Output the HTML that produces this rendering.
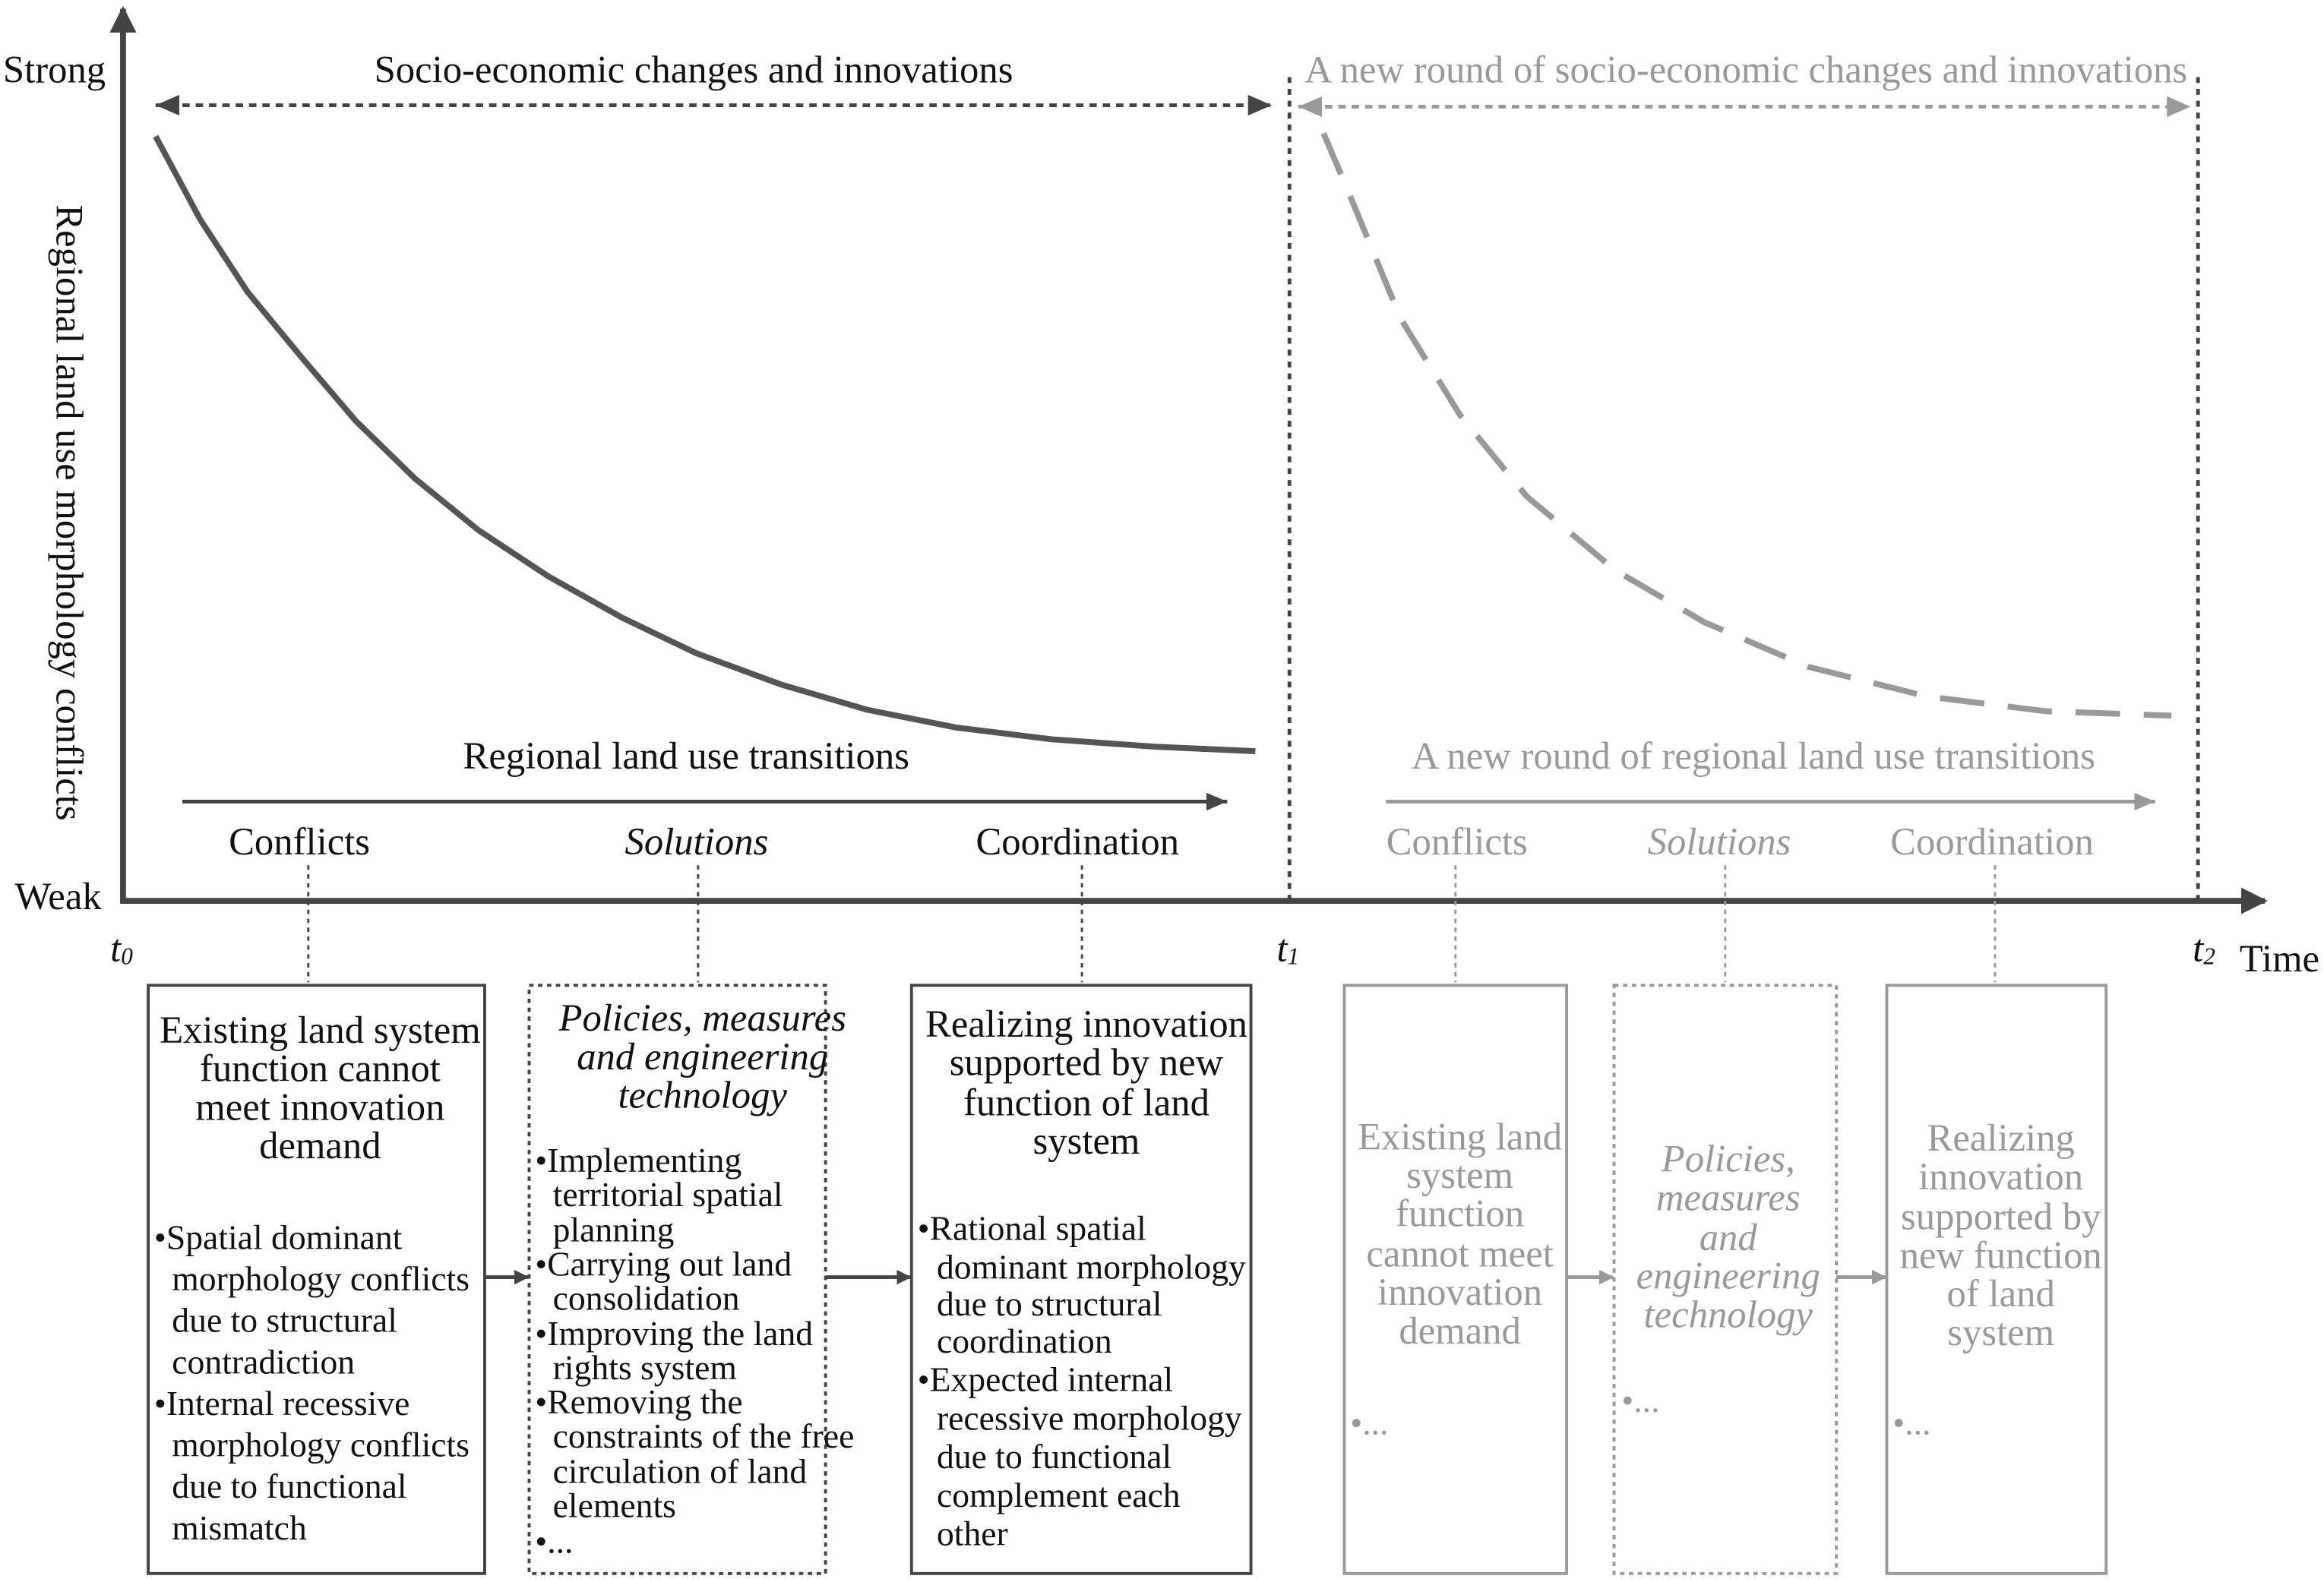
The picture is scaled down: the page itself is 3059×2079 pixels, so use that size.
<!DOCTYPE html>
<html><head><meta charset="utf-8"><style>
html,body{margin:0;padding:0;background:#fff}
svg{display:block}
text{font-family:"Liberation Serif",serif;dominant-baseline:central}
.k{fill:#111;font-size:23.4px}
.g{fill:#999;font-size:23.4px}
.t{font-size:26px}
</style></head><body>
<svg width="3059" height="2079" viewBox="0 0 1568 1065.7" preserveAspectRatio="none" xmlns="http://www.w3.org/2000/svg">
<defs>
<marker id="ak" markerWidth="10" markerHeight="10" refX="9" refY="5" orient="auto" markerUnits="userSpaceOnUse"><path d="M0,0 L10,5 L0,10 Z" fill="#444"/></marker>
<marker id="ag" markerWidth="10" markerHeight="10" refX="9" refY="5" orient="auto" markerUnits="userSpaceOnUse"><path d="M0,0 L10,5 L0,10 Z" fill="#999"/></marker>
<marker id="ab" markerWidth="18" markerHeight="18" refX="16" refY="9" orient="auto" markerUnits="userSpaceOnUse"><path d="M0,0 L18,9 L0,18 Z" fill="#444"/></marker>
<marker id="kd" markerWidth="18" markerHeight="18" refX="16" refY="9" orient="auto-start-reverse" markerUnits="userSpaceOnUse"><path d="M0,2 L16,9 L0,16 Z" fill="#444"/></marker>
<marker id="gd" markerWidth="18" markerHeight="18" refX="16" refY="9" orient="auto-start-reverse" markerUnits="userSpaceOnUse"><path d="M0,2 L16,9 L0,16 Z" fill="#999"/></marker>
<marker id="ks" markerWidth="16" markerHeight="16" refX="14" refY="8" orient="auto" markerUnits="userSpaceOnUse"><path d="M0,2 L14,8 L0,14 Z" fill="#444"/></marker>
<marker id="gs" markerWidth="16" markerHeight="16" refX="14" refY="8" orient="auto" markerUnits="userSpaceOnUse"><path d="M0,2 L14,8 L0,14 Z" fill="#999"/></marker>
</defs>
<line x1="83" y1="609" x2="83" y2="6" stroke="#444" stroke-width="4" marker-end="url(#ab)"/>
<line x1="81" y1="608" x2="1528" y2="608" stroke="#444" stroke-width="4" marker-end="url(#ab)"/>
<text class="k t" x="2" y="47">Strong</text>
<text class="k t" x="10" y="605">Weak</text>
<text class="k t" x="47" y="346" text-anchor="middle" transform="rotate(90 47 346)">Regional land use morphology conflicts</text>
<text class="k t" x="82" y="640" text-anchor="middle" font-style="italic">t<tspan font-size="16" dy="5">0</tspan></text>
<text class="k t" x="869" y="640" text-anchor="middle" font-style="italic">t<tspan font-size="16" dy="5">1</tspan></text>
<text class="k t" x="1487" y="640" text-anchor="middle" font-style="italic">t<tspan font-size="16" dy="5">2</tspan></text>
<text class="k t" x="1511" y="647">Time</text>
<text class="k t" x="468" y="47" text-anchor="middle">Socio-economic changes and innovations</text>
<line x1="105" y1="71" x2="858" y2="71" stroke="#444" stroke-width="2.5" stroke-dasharray="5 4" marker-start="url(#kd)" marker-end="url(#kd)"/>
<text class="g t" x="1178" y="47" text-anchor="middle">A new round of socio-economic changes and innovations</text>
<line x1="876" y1="72" x2="1478" y2="72" stroke="#999" stroke-width="2.5" stroke-dasharray="5 4" marker-start="url(#gd)" marker-end="url(#gd)"/>
<line x1="870" y1="52" x2="870" y2="608" stroke="#444" stroke-width="2.5" stroke-dasharray="4 4"/>
<line x1="1483" y1="52" x2="1483" y2="608" stroke="#444" stroke-width="2.5" stroke-dasharray="4 4"/>
<polyline fill="none" stroke="#555" stroke-width="4" points="105,92 135,148 167,197 205,243 240,284 280,323 323,358 370,389 420,417 470,441 527,462 585,479 645,491 710,499 780,504 847,507"/>
<polyline fill="none" stroke="#999" stroke-width="4" stroke-dasharray="30 16" points="893,90 910,130 945,215 985,280 1030,335 1090,385 1150,420 1220,450 1300,470 1380,480 1465,483"/>
<text class="k t" x="463" y="510" text-anchor="middle">Regional land use transitions</text>
<line x1="123" y1="541" x2="828" y2="541" stroke="#444" stroke-width="2.5" marker-end="url(#ks)"/>
<text class="g t" x="1183" y="510" text-anchor="middle">A new round of regional land use transitions</text>
<line x1="935" y1="541" x2="1454" y2="541" stroke="#999" stroke-width="2.5" marker-end="url(#gs)"/>
<text class="k t" x="202" y="568" text-anchor="middle">Conflicts</text>
<text class="k t" x="470" y="568" text-anchor="middle" font-style="italic">Solutions</text>
<text class="k t" x="727" y="568" text-anchor="middle">Coordination</text>
<text class="g t" x="983" y="568" text-anchor="middle">Conflicts</text>
<text class="g t" x="1160" y="568" text-anchor="middle" font-style="italic">Solutions</text>
<text class="g t" x="1344" y="568" text-anchor="middle">Coordination</text>
<g stroke-width="1.5" stroke-dasharray="3 3">
<line x1="208" y1="584" x2="208" y2="663" stroke="#444"/>
<line x1="471" y1="584" x2="471" y2="663" stroke="#444"/>
<line x1="730" y1="584" x2="730" y2="663" stroke="#444"/>
<line x1="982" y1="584" x2="982" y2="663" stroke="#999"/>
<line x1="1164" y1="584" x2="1164" y2="663" stroke="#999"/>
<line x1="1346" y1="584" x2="1346" y2="663" stroke="#999"/>
</g>
<rect x="100" y="665" width="227" height="397" fill="none" stroke="#444" stroke-width="2"/>
<rect x="357" y="665" width="200" height="397" fill="none" stroke="#444" stroke-width="2" stroke-dasharray="3 3"/>
<rect x="615" y="665" width="229" height="397" fill="none" stroke="#444" stroke-width="2"/>
<rect x="907" y="665" width="150" height="397" fill="none" stroke="#999" stroke-width="2"/>
<rect x="1089" y="665" width="150" height="397" fill="none" stroke="#999" stroke-width="2" stroke-dasharray="3 3"/>
<rect x="1273" y="665" width="148" height="397" fill="none" stroke="#999" stroke-width="2"/>
<g stroke-width="2.5">
<line x1="327" y1="862" x2="356" y2="862" stroke="#444" marker-end="url(#ak)"/>
<line x1="557" y1="862" x2="614" y2="862" stroke="#444" marker-end="url(#ak)"/>
<line x1="1057" y1="862" x2="1088" y2="862" stroke="#999" marker-end="url(#ag)"/>
<line x1="1239" y1="862" x2="1272" y2="862" stroke="#999" marker-end="url(#ag)"/>
</g>
<text class="k t" x="216" y="695" text-anchor="middle">Existing land system</text>
<text class="k t" x="216" y="721" text-anchor="middle">function cannot</text>
<text class="k t" x="216" y="747" text-anchor="middle">meet innovation</text>
<text class="k t" x="216" y="773" text-anchor="middle">demand</text>
<text class="k" x="104" y="835">•Spatial dominant</text>
<text class="k" x="116" y="863">morphology conflicts</text>
<text class="k" x="116" y="891">due to structural</text>
<text class="k" x="116" y="919">contradiction</text>
<text class="k" x="104" y="947">•Internal recessive</text>
<text class="k" x="116" y="975">morphology conflicts</text>
<text class="k" x="116" y="1003">due to functional</text>
<text class="k" x="116" y="1031">mismatch</text>
<text class="k t" x="474" y="687" text-anchor="middle" font-style="italic">Policies, measures</text>
<text class="k t" x="474" y="713" text-anchor="middle" font-style="italic">and engineering</text>
<text class="k t" x="474" y="739" text-anchor="middle" font-style="italic">technology</text>
<text class="k" x="361" y="783">•Implementing</text>
<text class="k" x="373" y="806">territorial spatial</text>
<text class="k" x="373" y="830">planning</text>
<text class="k" x="361" y="853">•Carrying out land</text>
<text class="k" x="373" y="876">consolidation</text>
<text class="k" x="361" y="900">•Improving the land</text>
<text class="k" x="373" y="923">rights system</text>
<text class="k" x="361" y="946">•Removing the</text>
<text class="k" x="373" y="969">constraints of the free</text>
<text class="k" x="373" y="993">circulation of land</text>
<text class="k" x="373" y="1016">elements</text>
<text class="k" x="361" y="1040">•...</text>
<text class="k t" x="733" y="691" text-anchor="middle">Realizing innovation</text>
<text class="k t" x="733" y="717" text-anchor="middle">supported by new</text>
<text class="k t" x="733" y="744" text-anchor="middle">function of land</text>
<text class="k t" x="733" y="770" text-anchor="middle">system</text>
<text class="k" x="619" y="829">•Rational spatial</text>
<text class="k" x="632" y="855">dominant morphology</text>
<text class="k" x="632" y="880">due to structural</text>
<text class="k" x="632" y="905">coordination</text>
<text class="k" x="619" y="931">•Expected internal</text>
<text class="k" x="632" y="957">recessive morphology</text>
<text class="k" x="632" y="983">due to functional</text>
<text class="k" x="632" y="1009">complement each</text>
<text class="k" x="632" y="1035">other</text>
<g text-anchor="middle">
<text class="g t" x="985" y="767">Existing land</text>
<text class="g t" x="985" y="793">system</text>
<text class="g t" x="985" y="819">function</text>
<text class="g t" x="985" y="846">cannot meet</text>
<text class="g t" x="985" y="872">innovation</text>
<text class="g t" x="985" y="898">demand</text>
<text class="g t" x="1166" y="782" font-style="italic">Policies,</text>
<text class="g t" x="1166" y="808" font-style="italic">measures</text>
<text class="g t" x="1166" y="835" font-style="italic">and</text>
<text class="g t" x="1166" y="861" font-style="italic">engineering</text>
<text class="g t" x="1166" y="887" font-style="italic">technology</text>
<text class="g t" x="1350" y="768">Realizing</text>
<text class="g t" x="1350" y="794">innovation</text>
<text class="g t" x="1350" y="821">supported by</text>
<text class="g t" x="1350" y="847">new function</text>
<text class="g t" x="1350" y="873">of land</text>
<text class="g t" x="1350" y="899">system</text>
</g>
<text class="g" x="911" y="960">•...</text>
<text class="g" x="1094" y="945">•...</text>
<text class="g" x="1277" y="960">•...</text>
</svg>
</body></html>
